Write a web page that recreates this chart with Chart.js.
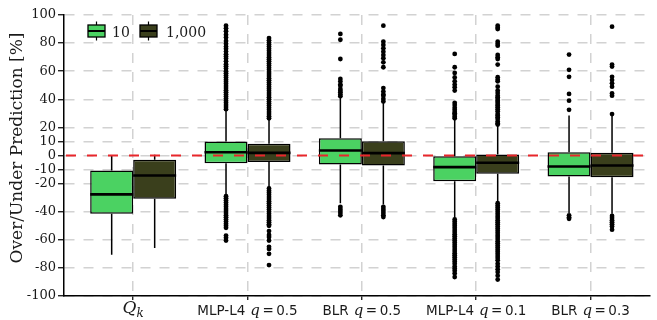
<!DOCTYPE html>
<html><head><meta charset="utf-8">
<script src="https://cdn.jsdelivr.net/npm/chart.js@4.4.1/dist/chart.umd.min.js"></script>
<style>html,body{margin:0;padding:0;background:#fff;}#wrap{width:657px;height:320px;position:relative;}</style>
</head><body><div id="wrap"><canvas id="c" width="657" height="320"></canvas></div>
<script>
const categories = ['Q_k', 'MLP-L4 q=0.5', 'BLR q=0.5', 'MLP-L4 q=0.1', 'BLR q=0.3'];
const seriesNames = ['10', '1,000'];
const yTickValues = [100, 80, 60, 40, 20, 10, 0, -10, -20, -40, -60, -80, -100];
const yTitle = 'Over/Under Prediction [%]';

// series "10"
const q1_10  = [-41.4, -5.5, -6.4, -18.3, -14.9];
const med_10 = [-27.7, 2.3, 3.6, -8.3, -7.8];
const q3_10  = [-10.6, 10, 12.3, -0.5, 2.4];
const lo_10  = [-70.6, -27.7, -33.9, -44.3, -41];
const hi_10  = [0, 32, 41.9, 26, 28.4];
const out_10 = [
  [],
  [92.4, 90.5, 88.5, 86, 84, 81.5, 79.5, 77.5, 76, 74, 72, 70.5, 69, 67, 65, 63.5, 62, 60, 58.5, 57, 55.5, 54, 52.5, 51, 49.5, 48, 46.5, 45, 43.5, 42, 40.5, 39, 37.5, 36, 34.5, 33,
   -29, -30.5, -32, -33.5, -35, -36.5, -38, -39.5, -41, -42.5, -44, -45.5, -47, -48.5, -50, -51.5, -57, -58.5, -60.5],
  [86.5, 82.4, 68.7, 54.5, 52.6, 50.5, 49.7, 47.4, 46, 45, 43.5, 42.2, -36.5, -38, -39.5, -41, -42.6],
  [72.3, 62.8, 58.8, 55.5, 52.8, 50.5, 48.6, 46.2, 37.5, 36, 34, 32.5, 31, 30, 29, 27.5, 26.5,
   -45.5, -47, -48.5, -50, -51.5, -53, -54.5, -56, -57.5, -59, -60.5, -62, -63.5, -65, -66.5, -68, -69.5, -71, -72.5, -74, -75.5, -77, -79, -80.5, -82, -84, -86.5],
  [71.8, 61, 56, 43.8, 39, 32.5, -42.6, -44, -45]
];

// series "1,000"
const q1_1000  = [-30.8, -4.7, -7.1, -13, -15.4];
const med_1000 = [-14.2, 1.9, 1.7, -5.2, -7.1];
const q3_1000  = [-3, 8.3, 10.2, 0.7, 1.9];
const lo_1000  = [-65.9, -22.5, -34.8, -32.7, -41.4];
const hi_1000  = [0.5, 26, 37.7, 21, 28.4];
const out_1000 = [
  [],
  [83.6, 82, 80.5, 79, 77.5, 76, 74.5, 73, 71.5, 70, 68.5, 67, 65.5, 64, 62.5, 61, 59.5, 58, 56.5, 55, 53.5, 52, 50.5, 49, 47.5, 46, 44.5, 43, 41.5, 40, 38.5, 37, 35.5, 34, 32.5, 31, 29.5, 28, 26.5,
   -23.5, -25, -26.5, -28, -29.5, -31, -32.5, -34, -35.5, -37, -38.5, -40, -41.5, -43, -44.5, -46, -47.5, -49, -50, -53.8, -56.5, -58, -60.5, -65, -66.5, -70, -78],
  [92.4, 81, 78.7, 76.3, 73.9, 71.5, 69.2, 66.3, 62.8, 48, 45.5, 43.5, 42.6, 40.3, 38.5, -36.5, -38, -39.5, -41, -42.5, -43.8],
  [92.4, 91, 90, 81, 79.5, 78.2, 71.6, 70, 68.7, 64.7, 55.7, 54, 52.8, 49, 46.2, 44.5, 42.6, 41.5, 40.3, 39, 38, 36.7, 35.5, 34.4, 33, 31.5, 29.6, 28.5, 27.3, 26, 24.2, 23, 22,
   -34, -35.5, -37, -38.5, -40, -41.5, -43, -44.5, -46, -47.5, -49, -50.5, -52, -53.5, -55, -56.5, -58, -59.5, -61, -62.5, -64, -65.5, -67, -68.5, -70, -71.5, -73, -74.6, -77, -79, -81, -83, -85.5, -88.3],
  [91.7, 64.7, 63.3, 56, 53.7, 51.4, 49, 44.2, 42.6, 29.5, -43, -44.5, -46, -47.5, -49, -50.5, -52.8]
];

const colors = ['#4bd262', '#3a3f1c'];
const stats = [
  {q1: q1_10, med: med_10, q3: q3_10, lo: lo_10, hi: hi_10, out: out_10},
  {q1: q1_1000, med: med_1000, q3: q3_1000, lo: lo_1000, hi: hi_1000, out: out_1000}
];

const boxPlugin = {
  id: 'boxparts',
  afterDatasetsDraw(chart) {
    const ctx = chart.ctx, ys = chart.scales.y, area = chart.chartArea;
    ctx.save();
    stats.forEach((s, d) => {
      const meta = chart.getDatasetMeta(d);
      meta.data.forEach((el, i) => {
        const x = el.x, half = el.width / 2;
        ctx.strokeStyle = '#000'; ctx.lineWidth = 1.5; ctx.setLineDash([]);
        ctx.beginPath();
        ctx.moveTo(x, ys.getPixelForValue(s.q3[i]));
        ctx.lineTo(x, ys.getPixelForValue(s.hi[i]));
        ctx.moveTo(x, ys.getPixelForValue(s.q1[i]));
        ctx.lineTo(x, ys.getPixelForValue(s.lo[i]));
        ctx.stroke();
        ctx.lineWidth = 2.6;
        ctx.beginPath();
        const my = ys.getPixelForValue(s.med[i]);
        ctx.moveTo(x - half, my); ctx.lineTo(x + half, my);
        ctx.stroke();
        ctx.fillStyle = '#000';
        s.out[i].forEach(v => {
          ctx.beginPath();
          ctx.arc(x, ys.getPixelForValue(v), 2.4, 0, Math.PI * 2);
          ctx.fill();
        });
      });
    });
    // red zero reference line
    const y0 = ys.getPixelForValue(0);
    ctx.strokeStyle = '#e8262b'; ctx.lineWidth = 2; ctx.setLineDash([10, 11]);
    ctx.beginPath(); ctx.moveTo(area.left + 2, y0); ctx.lineTo(area.right, y0); ctx.stroke();
    ctx.restore();
  },
  afterDraw(chart) {
    const ctx = chart.ctx, xs = chart.scales.x;
    ctx.save();
    ctx.fillStyle = '#1a1a1a';
    ctx.textBaseline = 'alphabetic';
    // x category labels
    categories.forEach((label, i) => {
      const cx = xs.getPixelForValue(i);
      if (label === 'Q_k') {
        ctx.font = 'italic 17px "DejaVu Serif"'; const wQ = ctx.measureText('Q').width;
        ctx.font = 'italic 12px "DejaVu Serif"'; const wk = ctx.measureText('k').width;
        const x0 = cx - (wQ + wk) / 2;
        ctx.font = 'italic 17px "DejaVu Serif"'; ctx.fillText('Q', x0, 313);
        ctx.font = 'italic 12px "DejaVu Serif"'; ctx.fillText('k', x0 + wQ, 317);
        return;
      }
      const sp = label.indexOf(' ');
      const name = label.slice(0, sp);
      const val = label.slice(label.indexOf('=') + 1);
      const parts = [
        [name, '13.5px "DejaVu Sans"', 5],
        ['q', 'italic 15px "DejaVu Serif"', 2.5],
        ['=', '13.5px "DejaVu Sans"', 2.5],
        [val, '13.5px "DejaVu Sans"', 0]
      ];
      let total = 0;
      parts.forEach(p => { ctx.font = p[1]; p.w = ctx.measureText(p[0]).width; total += p.w + p[2]; });
      let x = cx - total / 2;
      parts.forEach(p => { ctx.font = p[1]; ctx.fillText(p[0], x, 315); x += p.w + p[2]; });
    });
    // y axis title
    ctx.save();
    ctx.translate(18, 148);
    ctx.rotate(-Math.PI / 2);
    ctx.font = '17px "DejaVu Serif"';
    ctx.textAlign = 'center'; ctx.textBaseline = 'middle';
    ctx.fillText(yTitle, 0, 0);
    ctx.restore();
    // legend
    const entries = [[88, 112], [140, 166]];
    seriesNames.forEach((nm, k) => {
      const [bx, tx] = entries[k];
      const w = 17, top = 25, h = 12, mid = bx + w / 2;
      ctx.strokeStyle = '#000'; ctx.lineWidth = 1.2; ctx.setLineDash([]);
      ctx.beginPath(); ctx.moveTo(mid, top - 3.5); ctx.lineTo(mid, top); ctx.moveTo(mid, top + h); ctx.lineTo(mid, top + h + 3.5); ctx.stroke();
      ctx.fillStyle = colors[k]; ctx.fillRect(bx, top, w, h);
      ctx.lineWidth = 1.3; ctx.strokeRect(bx, top, w, h);
      ctx.lineWidth = 2; ctx.beginPath(); ctx.moveTo(bx, top + h / 2); ctx.lineTo(bx + w, top + h / 2); ctx.stroke();
      ctx.fillStyle = '#1a1a1a'; ctx.font = '14px "DejaVu Serif"'; ctx.textAlign = 'left'; ctx.textBaseline = 'alphabetic';
      ctx.fillText(nm, tx, 37);
    });
    ctx.restore();
  }
};

const datasets = seriesNames.map((nm, d) => ({
  label: nm,
  data: categories.map((c, i) => ({x: i, y: [stats[d].q1[i], stats[d].q3[i]]})),
  backgroundColor: colors[d],
  borderColor: '#000',
  borderWidth: 1.5,
  borderSkipped: false,
  categoryPercentage: 0.752,
  barPercentage: 1.0
}));

new Chart(document.getElementById('c'), {
  type: 'bar',
  data: {datasets},
  options: {
    responsive: false, animation: false, devicePixelRatio: 1,
    layout: {padding: {top: 15, right: 7, left: 0, bottom: 0}},
    plugins: {legend: {display: false}, tooltip: {enabled: false}},
    scales: {
      x: {
        type: 'linear', min: -0.605, max: 4.52, offset: false,
        afterBuildTicks: a => { a.ticks = categories.map((c, i) => ({value: i})); },
        afterFit: a => { a.height = 24; },
        ticks: {display: false},
        grid: {offset: false, color: '#d2d2d2', lineWidth: 1.5, drawTicks: true, tickLength: 4, tickColor: '#000', tickWidth: 1.2},
        border: {display: true, color: '#000', width: 1.5, dash: [10, 9]}
      },
      y: {
        min: -100, max: 100,
        afterBuildTicks: a => { a.ticks = yTickValues.map(v => ({value: v})); },
        afterFit: a => { a.width = 64; },
        ticks: {font: {family: 'DejaVu Serif', size: 13}, color: '#1a1a1a', padding: 2, autoSkip: false, callback: v => String(v)},
        grid: {color: '#d2d2d2', lineWidth: 1.5, drawTicks: true, tickLength: 6, tickColor: '#000', tickWidth: 1.2},
        border: {display: true, color: '#000', width: 1.5, dash: [10, 9]}
      }
    }
  },
  plugins: [boxPlugin]
});
</script></body></html>
